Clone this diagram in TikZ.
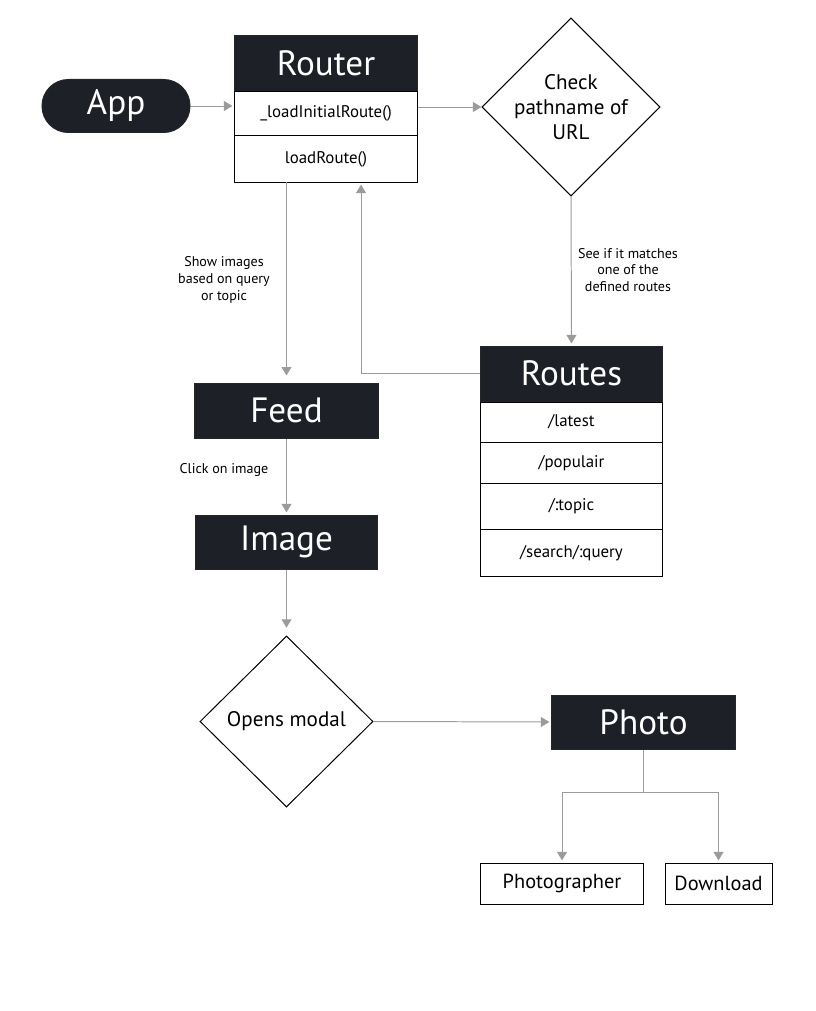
\documentclass[tikz,border=0pt]{standalone}
\usepackage{fontspec}
\setmainfont{PT Sans}
\usetikzlibrary{positioning,shapes.geometric,arrows.meta}
\definecolor{boxdark}{HTML}{1D2027}
\definecolor{linegray}{HTML}{9B9B9B}
\tikzset{
  headbox/.style  = {draw=black!85, fill=boxdark, text=white, line width=0.7pt,
                     minimum width=4.55cm, minimum height=1.375cm, inner sep=0pt,
                     font=\fontsize{25}{30}\selectfont},
  rowbox/.style   = {draw=black, fill=white, line width=0.7pt, minimum width=4.55cm,
                     minimum height=1.075cm, inner sep=0pt, font=\fontsize{12}{14}\selectfont},
  decision/.style = {diamond, draw=black, fill=white, line width=0.7pt, inner sep=0pt,
                     align=center, font=\fontsize{15}{17.5}\selectfont},
  leafbox/.style  = {draw=black, line width=0.7pt, minimum height=1.025cm, inner sep=0pt,
                     font=\fontsize{14.5}{17}\selectfont},
  note/.style     = {align=center, inner sep=0pt, font=\fontsize{10}{12}\selectfont},
  link/.style     = {draw=linegray, line width=0.7pt},
  conn/.style     = {link, -{Triangle[width=7pt,length=6pt]}, shorten >=1.5pt}
}

\begin{document}
\begin{tikzpicture}[x=0.025cm, y=-0.025cm]
    \useasboundingbox (0,0) rectangle (815,1011);

    % start
    \node[headbox, rounded corners=0.66cm, minimum width=3.7cm, minimum height=1.325cm]
      (app) at (116,106) {App};

    % router with its two methods
    \node[headbox] (routerhead) at (326,63.5) {Router};
    \node[rowbox, below=0pt of routerhead] (routerinit) {\_loadInitialRoute()};
    \node[rowbox, below=0pt of routerinit, minimum height=1.15cm] (routerload) {loadRoute()};

    \node[decision, minimum width=4.35cm, minimum height=4.3cm]
      (check) at (571,107) {Check\\pathname of\\URL};

    % routes table
    \node[headbox, minimum width=4.525cm] (routeshead) at (571.5,373.5) {Routes};
    \node[rowbox, below=0pt of routeshead, minimum width=4.525cm, minimum height=1cm]
      (latest) {/latest};
    \node[rowbox, below=0pt of latest, minimum width=4.525cm, minimum height=1cm]
      (populair) {/populair};
    \node[rowbox, below=0pt of populair, minimum width=4.525cm, minimum height=1.125cm]
      (topic) {/:topic};
    \node[rowbox, below=0pt of topic, minimum width=4.525cm, minimum height=1.15cm]
      (search) {/search/:query};

    \node[headbox, minimum width=4.575cm] (feed) at (286.5,410.5) {Feed};
    \node[headbox, minimum height=1.35cm] (image) at (286.5,542) {Image};

    \node[decision, minimum width=4.325cm, minimum height=4.275cm]
      (modal) at (286.5,721.5) {Opens modal};

    \node[headbox, minimum width=4.575cm, minimum height=1.35cm] (photo) at (643.5,722) {Photo};
    \node[leafbox, minimum width=4.05cm] (photographer) at (562,883.5) {Photographer};
    \node[leafbox, minimum width=2.675cm] (download) at (718.5,883.5) {Download};

    % labels on the connectors
    \node[note] (showlbl)  at (224,280) {Show images\\based on query\\or topic};
    \node[note] (matchlbl) at (628,270) {See if it matches\\one of the\\defined routes};
    \node[note] (clicklbl) at (224,470) {Click on image};

    % connectors
    \draw[conn] (app.east) -- (app.east -| routerinit.west);
    \draw[conn, shorten >=0pt] (check.west -| routerinit.east) -- (check.west);
    \draw[conn] (check.south) -- (routeshead.north);
    \draw[conn] (routeshead.west) -| ([xshift=0.875cm]routerload.south);
    \draw[conn, shorten >=5pt] (feed.north |- routerload.south) -- (feed.north);
    \draw[conn] (feed.south) -- (image.north);
    \draw[conn, shorten >=5.5pt] (image.south) -- (modal.north);
    \draw[conn] (modal.east) -- (photo.west);

    % photo splits into two actions
    \draw[link] (photo.south) -- (photo.south |- 0,792) coordinate (split);
    \draw[conn] (split) -| (photographer.north);
    \draw[conn] (split) -| (download.north);
\end{tikzpicture}
\end{document}
